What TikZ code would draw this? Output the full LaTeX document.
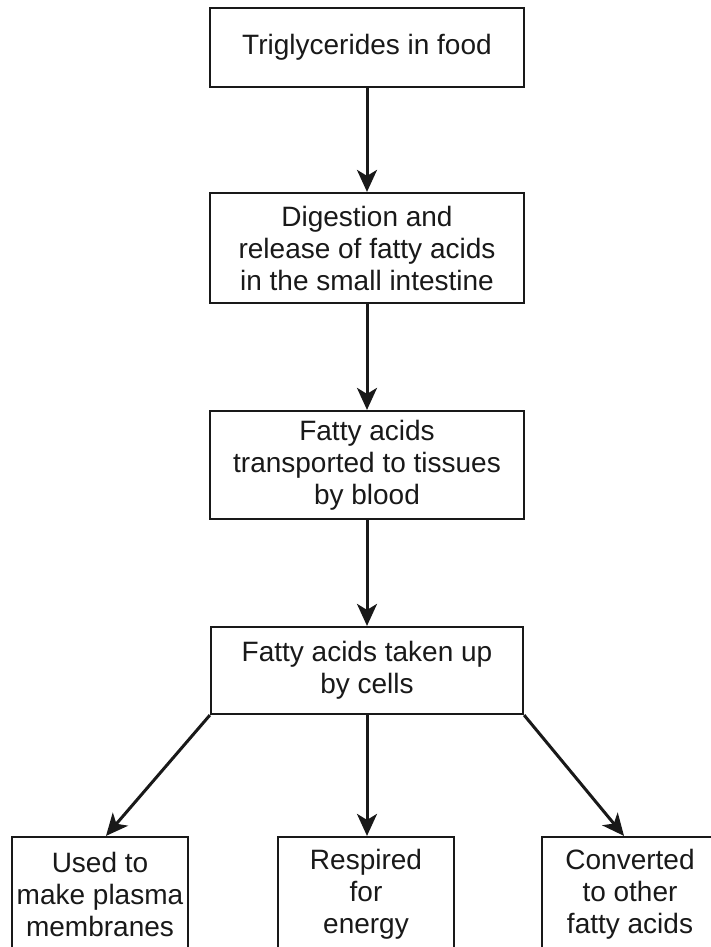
\documentclass[tikz,border=0pt]{standalone}
\usepackage{fontspec}
\setmainfont{Liberation Sans}
\usetikzlibrary{arrows.meta}
\begin{document}
\begin{tikzpicture}[x=1pt,y=-1pt,
  box/.style={draw=black!90, line width=2.2pt, inner sep=0pt, align=center,
    font=\fontsize{28}{32}\selectfont, text=black!90},
  arr/.style={draw=black!90, line width=3pt, -{Stealth[length=22pt,width=20pt,inset=6pt]}}]
\useasboundingbox (0,0) rectangle (711,947);
\clip (0,0) rectangle (711,947);
\fill[white] (0,0) rectangle (711,947);
\node[box, minimum width=314pt, minimum height=79pt] (b1) at (367,47.5) {Triglycerides in food};
\node[box, minimum width=314pt, minimum height=110pt] (b2) at (367,248) {Digestion and\\release of fatty acids\\in the small intestine};
\node[box, minimum width=314pt, minimum height=108pt] (b3) at (367,465) {Fatty acids\\transported to tissues\\by blood};
\node[box, minimum width=312pt, minimum height=87pt] (b4) at (367,670.5) {Fatty acids taken up\\by cells};
\node[box, minimum width=176pt, minimum height=114pt] (b5) at (100,894) {Used to\\make plasma\\membranes};
\node[box, minimum width=176pt, minimum height=114pt] (b6) at (366,894) {Respired\\for\\energy};
\node[box, minimum width=176pt, minimum height=114pt] (b7) at (630,894) {Converted\\to other\\fatty acids};
\draw[arr] (b1.south) -- (b2.north);
\draw[arr] (b2.south) -- (b3.north);
\draw[arr] (b3.south) -- (b4.north);
\draw[arr] (b4.south west) -- ([xshift=6pt]b5.north);
\draw[arr] (b4.south) -- (b4.south |- b6.north);
\draw[arr] (b4.south east) -- ([xshift=-6pt]b7.north);
\end{tikzpicture}
\end{document}
